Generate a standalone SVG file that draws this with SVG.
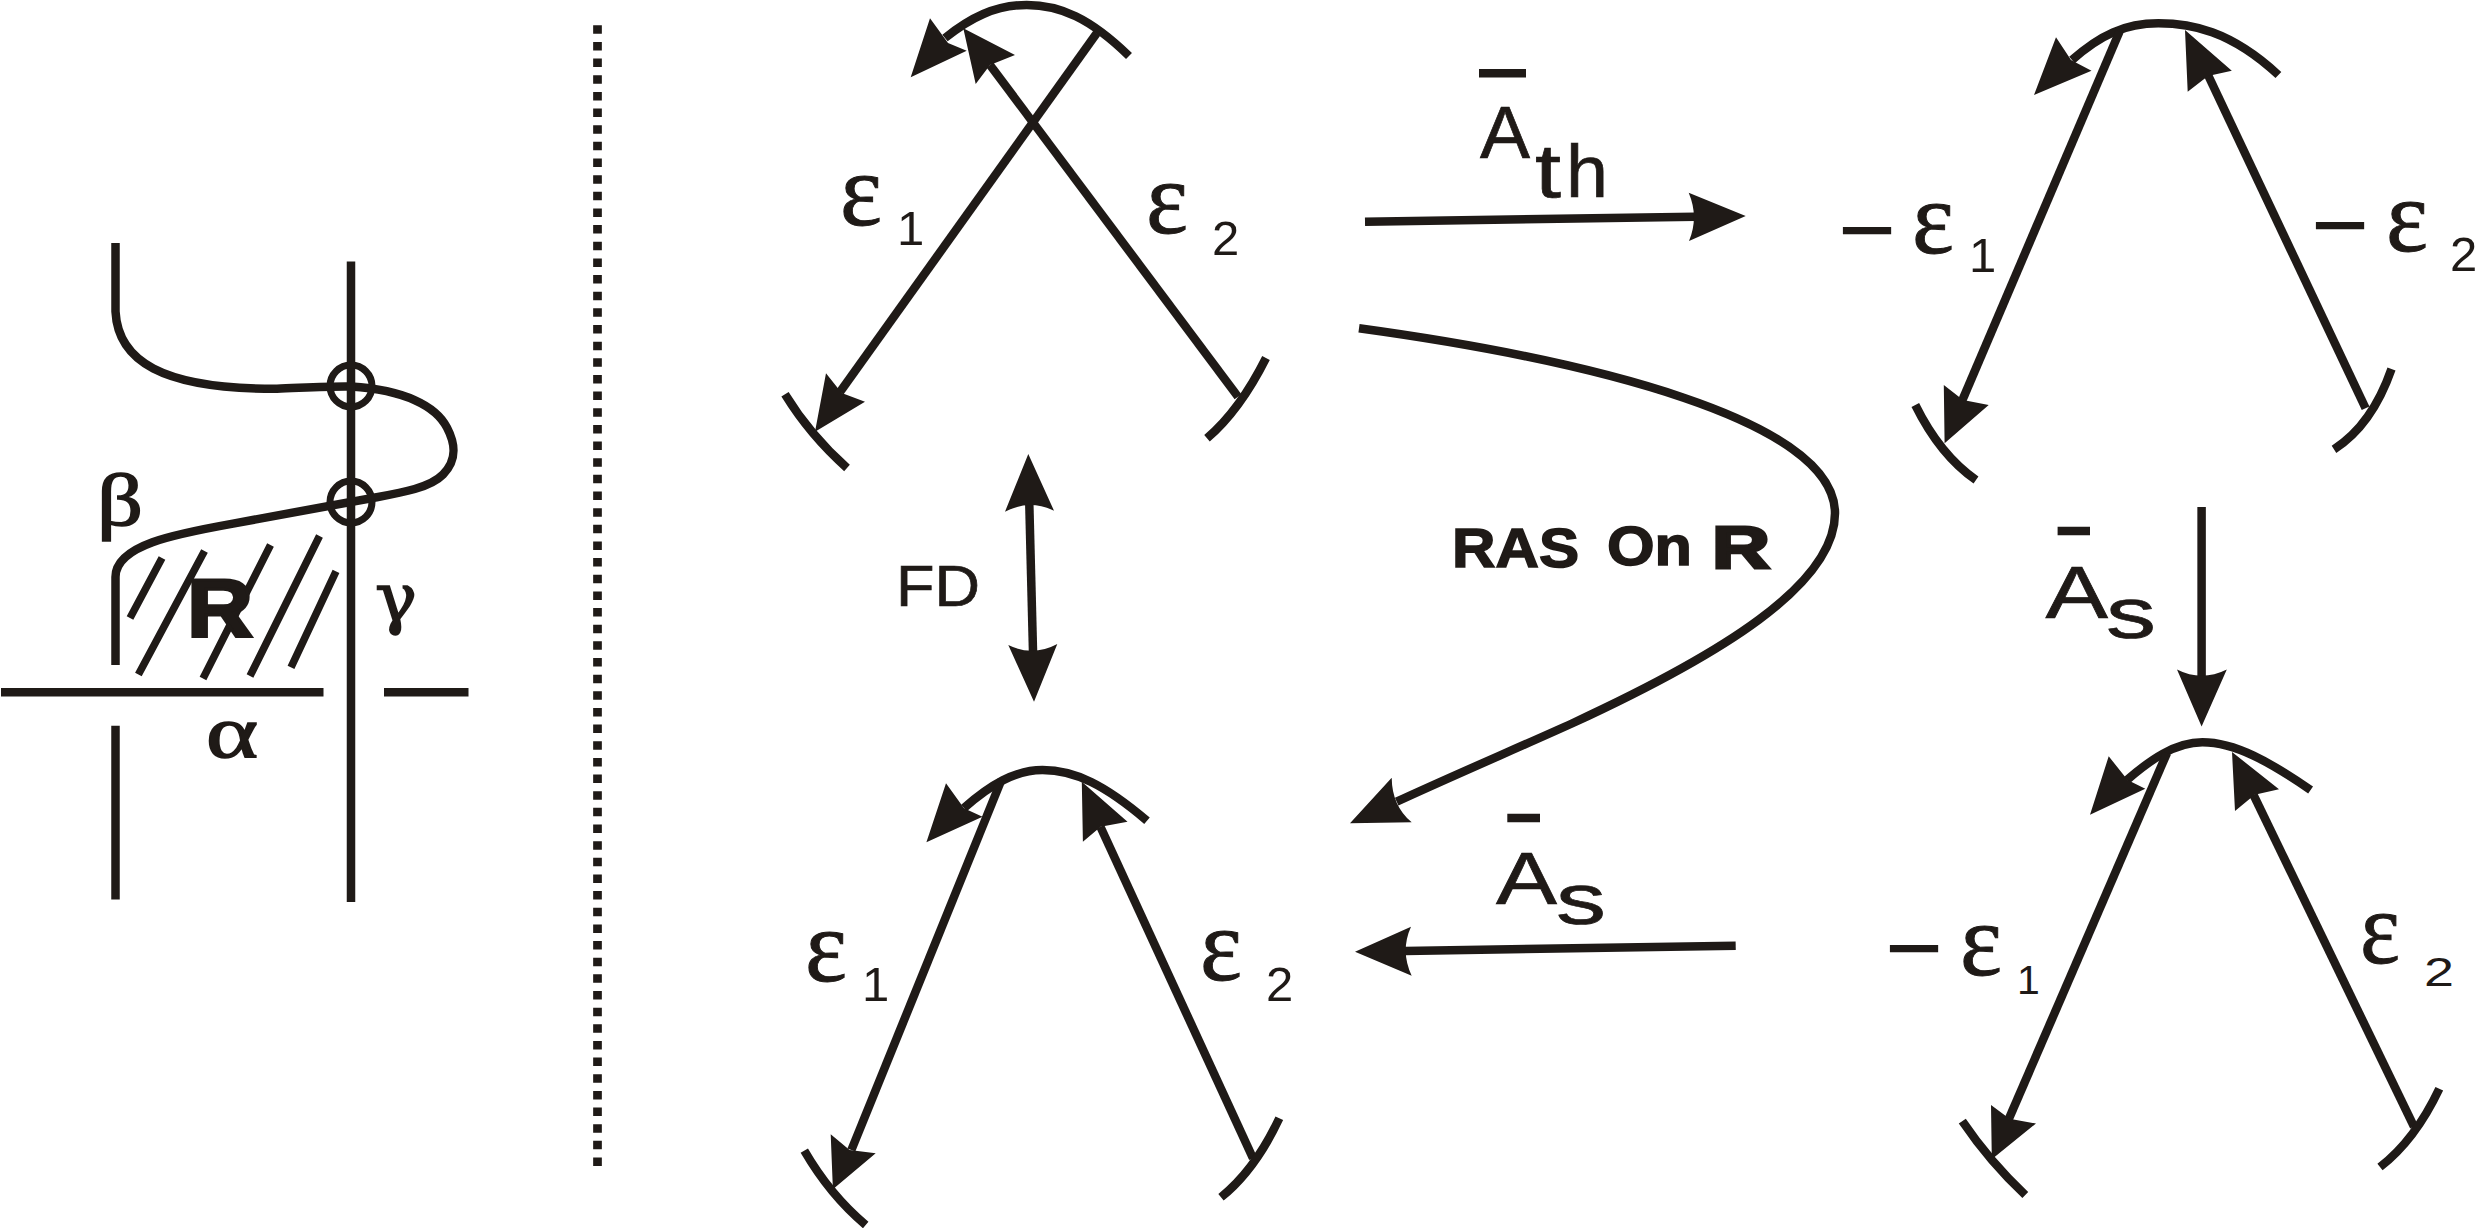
<svg xmlns="http://www.w3.org/2000/svg" width="2477" height="1228" viewBox="0 0 2477 1228">
<style>
.s{fill:none;stroke:#1f1a17;stroke-width:8.5}
.h{fill:#1f1a17;stroke:none}
text{fill:#1f1a17}
.e{font-family:"Liberation Serif",serif;font-size:104px;stroke:#1f1a17;stroke-width:1}
.d{font-family:"Liberation Sans",Arial,sans-serif;font-size:49px}
.d2{font-family:"Liberation Sans",Arial,sans-serif;font-size:41px}
.m{font-family:"Liberation Sans",Arial,sans-serif;font-size:100px}
.a{font-family:"Liberation Sans",Arial,sans-serif;font-size:75px;stroke:#1f1a17;stroke-width:.7}
.g{font-family:"Liberation Serif",serif;font-size:75px;stroke:#1f1a17;stroke-width:1.6}
.b{font-family:"Liberation Sans",Arial,sans-serif;font-weight:bold;stroke:#1f1a17}
</style>
<g id="connectors">
<path class="s" d="M1365 221.7L1695 216.7"/><path class="h" d="M1745.7 216L1688.7 192.7Q1699 217 1689 241Z"/>
<path class="s" d="M1359 328.3C1590 360 1835 420 1835 513.3C1835 585 1720 655 1573 723C1520 747 1450 777 1396.7 801.7"/><path class="h" d="M1350 823.3L1391.7 777.7Q1392 806 1411.7 822.3Z"/>
<path class="s" d="M2201.6 507V678"/><path class="h" d="M2201.6 726.6L2177 669.5Q2201.6 682 2226.8 669.5Z"/>
<path class="s" d="M1735.7 945.7L1405 951"/><path class="h" d="M1355 951.7L1411 926.7Q1400 951 1411.7 975.7Z"/>
<path class="s" d="M1029.3 504L1033 651"/><path class="h" d="M1028.3 454L1005 511.7Q1029 499 1054 510.7Z"/><path class="h" d="M1034 701.7L1008.3 645Q1033 657 1057.3 644Z"/>
</g>
<g id="reaction-site">
<g class="s">
<path d="M115.5 243V311.5C118 360 160 389 277 388.8C300 388 330 386 351 386.5C405 390 436 406 447 427.6C455 443 458 459 443 474.5C430 488 400 493 374 497.7L233 523.6C175 534 115.5 545 115.5 577V665"/>
<path d="M351 261.5V902"/>
<circle cx="351" cy="386" r="21" stroke-width="7"/>
<circle cx="351" cy="502" r="21" stroke-width="7"/>
<path d="M1 692.3H323.5M384 692.3H468.5"/>
<path d="M115.5 725.8V899.5"/>
<path stroke-width="7.5" d="M162 558L130 618M204.5 551L138.4 674.5M270.5 545L203 678.5M319.5 536L250 676M336 571.3L291 667.3"/>
</g>
<text class="b" x="187" y="636" font-size="82" stroke-width="3" textLength="66" lengthAdjust="spacingAndGlyphs">R</text>
<text class="g" x="97" y="525" textLength="46" lengthAdjust="spacingAndGlyphs">β</text>
<text class="g" x="206" y="757" textLength="52" lengthAdjust="spacingAndGlyphs">α</text>
<text class="g" x="375" y="621" textLength="42" lengthAdjust="spacingAndGlyphs" style="font-family:'DejaVu Serif',serif;font-size:68px">γ</text>
</g>
<path id="divider" d="M597.5 25.3V1166" fill="none" stroke="#1f1a17" stroke-width="8.7" stroke-dasharray="8.5 8.15"/>
<g id="state-top-left">
<path class="s" d="M1129 56C1090 18 1060 5 1026.7 5C995 5 970 18 945 38"/>
<path class="h" d="M910.7 77.3L930 18.3L948 43L966.7 50.7Z"/>
<path class="s" d="M1096.7 33.3L840 392"/>
<path class="h" d="M815 431.7L826 373.3L841.7 393L865 401.7Z"/>
<path class="s" d="M1238 396.7L990 65"/>
<path class="h" d="M963.3 28.3L1015 55L990 65L975.7 84Z"/>
<path class="s" d="M785 394.3Q810 435 847 468M1266 358Q1240 410 1207 438.3"/>
<text class="e" x="840" y="225" textLength="42" lengthAdjust="spacingAndGlyphs">ε</text><text class="d" x="897" y="245">1</text>
<text class="e" x="1146" y="233" textLength="42" lengthAdjust="spacingAndGlyphs">ε</text><text class="d" x="1212" y="255">2</text>
</g>
<g id="state-top-right">
<path class="s" d="M2278.4 75C2230 30 2190 23.3 2158.4 23.3C2125 23.3 2100 35 2072 60"/>
<path class="h" d="M2034 95L2056 37.3L2071 60L2091.5 70.7Z"/>
<path class="s" d="M2119.5 31.7L1962 401"/>
<path class="h" d="M1944.6 443.3L1943.8 385L1963 400L1988.7 405Z"/>
<path class="s" d="M2365.6 408.3L2208 75"/>
<path class="h" d="M2185 30L2231.8 70.7L2208 76L2187.7 91.7Z"/>
<path class="s" d="M1915.3 405Q1940 455 1976 480M2391.5 369Q2372 425 2334 449.3"/>
<text class="m" x="1838" y="264" textLength="58" lengthAdjust="spacingAndGlyphs">−</text>
<text class="e" x="1912" y="253" textLength="42" lengthAdjust="spacingAndGlyphs">ε</text><text class="d" x="1969" y="272">1</text>
<text class="m" x="2311" y="259" textLength="58" lengthAdjust="spacingAndGlyphs">−</text>
<text class="e" x="2386" y="251" textLength="42" lengthAdjust="spacingAndGlyphs">ε</text><text class="d" x="2450" y="271">2</text>
</g>
<g id="state-bottom-left">
<path class="s" d="M1147 820.7C1105 785 1075 770 1042.5 770C1015 770 990 785 964 808"/>
<path class="h" d="M926.4 842.3L946 783.3L964 808.3L982.5 816.7Z"/>
<path class="s" d="M1001.4 780L851.4 1150"/>
<path class="h" d="M832.9 1189.3L830.7 1134.3L849.6 1150L875.7 1153.3Z"/>
<path class="s" d="M1253 1158.3L1100.4 826.7"/>
<path class="h" d="M1081.8 781.7L1127.5 821.7L1100.7 826.7L1082.9 841.7Z"/>
<path class="s" d="M804.3 1150.7Q830 1195 865.7 1225M1279.3 1118.3Q1255 1170 1221 1197.3"/>
<text class="e" x="805" y="981" textLength="42" lengthAdjust="spacingAndGlyphs">ε</text><text class="d" x="862" y="1001">1</text>
<text class="e" x="1200" y="980" textLength="42" lengthAdjust="spacingAndGlyphs">ε</text><text class="d" x="1266" y="1001">2</text>
</g>
<g id="state-bottom-right">
<path class="s" d="M2310.6 790C2270 762 2235 742.3 2202.4 742.3C2175 742.3 2150 760 2127 780"/>
<path class="h" d="M2090 814.8L2108.7 756.3L2127.6 780L2145.3 788.8Z"/>
<path class="s" d="M2167 753L2008.8 1119"/>
<path class="h" d="M1991.8 1159.2L1991 1105L2009.5 1118.8L2036 1123.5Z"/>
<path class="s" d="M2414 1126.7L2253.5 794.8"/>
<path class="h" d="M2232 752L2279 789.2L2254.7 794.8L2235 811Z"/>
<path class="s" d="M1962.3 1121.2Q1990 1162 2025.3 1195M2439.3 1088.7Q2415 1140 2380 1167"/>
<text class="m" x="1885" y="982" textLength="58" lengthAdjust="spacingAndGlyphs">−</text>
<text class="e" x="1960" y="975" textLength="42" lengthAdjust="spacingAndGlyphs">ε</text><text class="d2" x="2017" y="994">1</text>
<text class="e" x="2360" y="963" textLength="40" lengthAdjust="spacingAndGlyphs">ε</text><text class="d2" x="2424" y="986" textLength="30" lengthAdjust="spacingAndGlyphs">2</text>
</g>
<g id="label-ath">
<path class="s" d="M1479 73.3H1526"/>
<text class="a" x="1480" y="158">A</text>
<text class="a" x="1535" y="197" style="font-size:76px" textLength="26" lengthAdjust="spacingAndGlyphs">t</text>
<text class="a" x="1566" y="197" style="font-size:74px" textLength="42" lengthAdjust="spacingAndGlyphs">h</text>
</g>
<g id="label-as-right">
<path class="s" d="M2057.6 531H2090"/>
<text class="a" x="2045.5" y="617.5" textLength="62.5" lengthAdjust="spacingAndGlyphs">A</text>
<text class="a" x="2106" y="637.5" style="font-size:72px" textLength="50" lengthAdjust="spacingAndGlyphs">s</text>
</g>
<g id="label-as-bottom">
<path class="s" d="M1507.3 818H1540"/>
<text class="a" x="1496" y="904" textLength="61" lengthAdjust="spacingAndGlyphs">A</text>
<text class="a" x="1556" y="924" style="font-size:72px" textLength="50" lengthAdjust="spacingAndGlyphs">s</text>
</g>
<text id="label-fd" class="a" x="896" y="606" style="font-size:58px" textLength="84" lengthAdjust="spacingAndGlyphs">FD</text>
<g id="label-ras">
<text class="b" x="1452" y="566.5" font-size="56" stroke-width="1.5" textLength="127" lengthAdjust="spacingAndGlyphs">RAS</text>
<text class="b" x="1607" y="564.5" font-size="56" stroke-width="1.5" textLength="85" lengthAdjust="spacingAndGlyphs">On</text>
<text class="b" x="1712" y="567.5" font-size="60" stroke-width="3" textLength="58" lengthAdjust="spacingAndGlyphs">R</text>
</g>
</svg>
